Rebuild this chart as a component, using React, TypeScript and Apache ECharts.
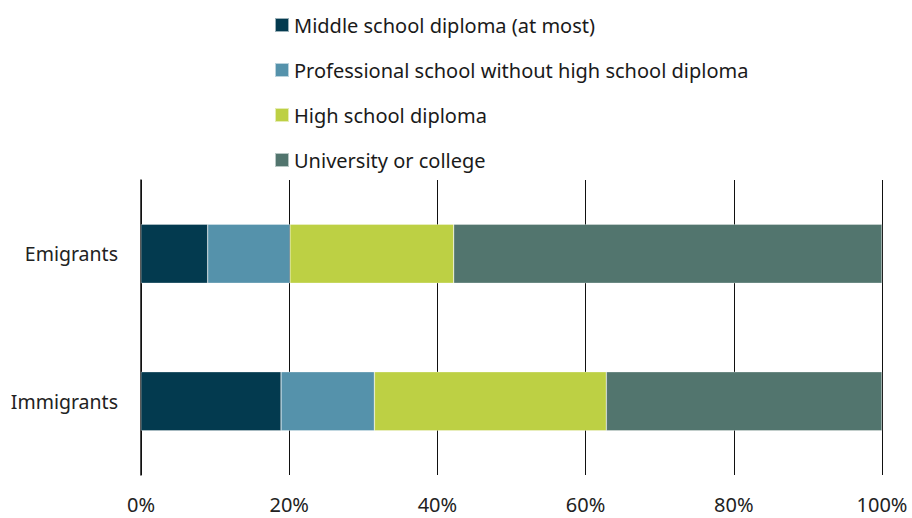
import React, { useEffect, useRef } from "react";
import * as echarts from "echarts";

const categories = ["Immigrants", "Emigrants"];
const seriesNames = [
  "Middle school diploma (at most)",
  "Professional school without high school diploma",
  "High school diploma",
  "University or college",
];
const middleSchool = [18.9, 9.0];
const professional = [12.6, 11.1];
const highSchool = [31.3, 22.1];
const university = [37.2, 57.8];
const xTicks = [0, 20, 40, 60, 80, 100];
const colors = ["#033a4f", "#5592ab", "#bdd044", "#52756e"];

export default function App() {
  const ref = useRef<HTMLDivElement>(null);
  useEffect(() => {
    if (!ref.current) return;
    const chart = echarts.init(ref.current, null, { renderer: "svg" });
    const values = [middleSchool, professional, highSchool, university];
    const font = "'Noto Sans', sans-serif";
    chart.setOption({
      animation: false,
      textStyle: { fontFamily: font },
      legend: {
        orient: "vertical",
        left: 274,
        top: 14,
        padding: 0,
        itemWidth: 14,
        itemHeight: 14,
        itemGap: 23,
        icon: "rect",
        selectedMode: false,
        textStyle: { fontSize: 20, color: "#1a1a1a", fontFamily: font, lineHeight: 22 },
        data: seriesNames,
      },
      grid: { left: 141, right: 30, top: 180, bottom: 43, containLabel: false },
      xAxis: {
        type: "value",
        min: 0,
        max: 100,
        interval: 20,
        axisLine: { show: false },
        axisTick: { show: false },
        axisLabel: {
          margin: 19,
          fontSize: 20,
          color: "#222",
          fontFamily: font,
          formatter: (v: number) => (xTicks.includes(v) ? v + "%" : ""),
        },
        splitLine: { show: true, lineStyle: { color: "#111", width: 1 } },
      },
      yAxis: {
        type: "category",
        data: categories,
        axisLine: { show: true, lineStyle: { color: "#111", width: 1.5 } },
        axisTick: { show: false },
        axisLabel: { margin: 23, fontSize: 19.5, color: "#222", fontFamily: font },
      },
      series: seriesNames.map((name, i) => ({
        name,
        type: "bar",
        stack: "total",
        barWidth: "40%",
        data: values[i],
        itemStyle: { color: colors[i], borderColor: "rgba(255,255,255,0.6)", borderWidth: 0.5 },
      })),
    });
    return () => chart.dispose();
  }, []);
  return <div ref={ref} style={{ width: 912, height: 518, position: "absolute", left: 0, top: 0 }} />;
}
